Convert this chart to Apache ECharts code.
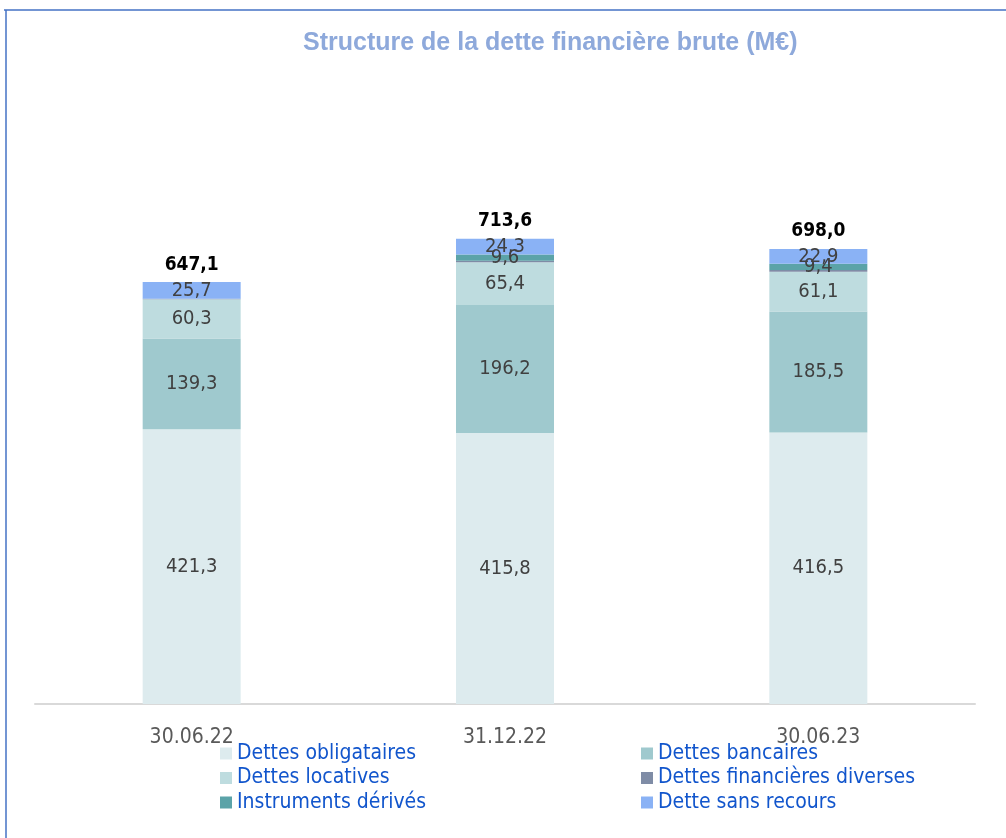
<!DOCTYPE html>
<html>
<head>
<meta charset="utf-8">
<script src="https://cdn.jsdelivr.net/npm/echarts@6/dist/echarts.min.js"></script>
<style>
  html, body { margin: 0; padding: 0; background: #fff; }
  #chart { width: 1006px; height: 838px; }
</style>
</head>
<body>
<div id="chart"></div>
<script>
const categories = ['30.06.22', '31.12.22', '30.06.23']
const obligataires = [421.3, 415.8, 416.5]
const bancaires = [139.3, 196.2, 185.5]
const locatives = [60.3, 65.4, 61.1]
const diverses = [0.5, 2.3, 2.6]
const derives = [0, 9.6, 9.4]
const sansRecours = [25.7, 24.3, 22.9]
const totals = [647.1, 713.6, 698.0]

const labelFont = '"DejaVu Sans Condensed", "Liberation Sans Narrow", sans-serif'
const fmt = (v) => v.toFixed(1).replace('.', ',')

const chart = echarts.init(document.getElementById('chart'))

const segment = (name, data, color, showLabel) => ({
  name,
  type: 'bar',
  stack: 'dette',
  barWidth: 98,
  data,
  itemStyle: { color },
  label: {
    show: showLabel,
    position: 'inside',
    color: '#404040',
    fontSize: 20,
    fontFamily: labelFont,
    formatter: (p) => (p.value ? fmt(p.value) : ''),
  },
})

const legendText = { color: '#1155CC', fontSize: 21, lineHeight: 21, fontFamily: labelFont }

const option = {
  animation: false,
  title: {
    text: 'Structure de la dette financière brute (M€)',
    left: 303,
    top: 31,
    padding: 0,
    textStyle: {
      color: '#8EA9DB',
      fontSize: 25,
      fontWeight: 'bold',
      fontFamily: '"Liberation Sans", Arial, sans-serif',
    },
  },
  grid: {
    left: 35,
    right: 31,
    top: 52,
    bottom: 134,
  },
  xAxis: {
    type: 'category',
    data: categories,
    axisLine: { lineStyle: { color: '#d9d9d9', width: 2 } },
    axisTick: { show: false },
    axisLabel: {
      color: '#595959',
      fontSize: 21,
      fontFamily: labelFont,
      margin: 23,
    },
  },
  yAxis: {
    type: 'value',
    min: 0,
    max: 1000,
    show: false,
  },
  legend: [
    {
      orient: 'vertical',
      left: 220,
      top: 743,
      padding: 0,
      icon: 'rect',
      itemWidth: 12,
      itemHeight: 12,
      itemGap: 3.5,
      data: ['Dettes obligataires', 'Dettes locatives', 'Instruments dérivés'],
      textStyle: legendText,
    },
    {
      orient: 'vertical',
      left: 641,
      top: 743,
      padding: 0,
      icon: 'rect',
      itemWidth: 12,
      itemHeight: 12,
      itemGap: 3.5,
      data: ['Dettes bancaires', 'Dettes financières diverses', 'Dette sans recours'],
      textStyle: legendText,
    },
  ],
  graphic: [
    {
      type: 'line',
      shape: { x1: 4, y1: 10, x2: 1006, y2: 10 },
      style: { stroke: '#4472C4', lineWidth: 1.5 },
    },
    {
      type: 'line',
      shape: { x1: 6, y1: 10, x2: 6, y2: 838 },
      style: { stroke: '#4472C4', lineWidth: 1.5 },
    },
  ],
  series: [
    segment('Dettes obligataires', obligataires, '#DDEBEE', true),
    segment('Dettes bancaires', bancaires, '#9FC9CE', true),
    segment('Dettes locatives', locatives, '#BEDCDF', true),
    segment('Dettes financières diverses', diverses, '#7F8CA6', false),
    segment('Instruments dérivés', derives, '#5BA3A8', true),
    segment('Dette sans recours', sansRecours, '#8AB2F5', true),
    {
      name: 'Total',
      type: 'bar',
      stack: 'dette',
      barWidth: 98,
      data: totals.map(() => 0),
      itemStyle: { color: 'transparent' },
      label: {
        show: true,
        position: 'top',
        distance: 8,
        color: '#000000',
        fontSize: 19,
        fontWeight: 'bold',
        fontFamily: labelFont,
        formatter: (p) => fmt(totals[p.dataIndex]),
      },
    },
  ],
}

chart.setOption(option)
window.addEventListener('resize', () => chart.resize())
</script>
</body>
</html>
